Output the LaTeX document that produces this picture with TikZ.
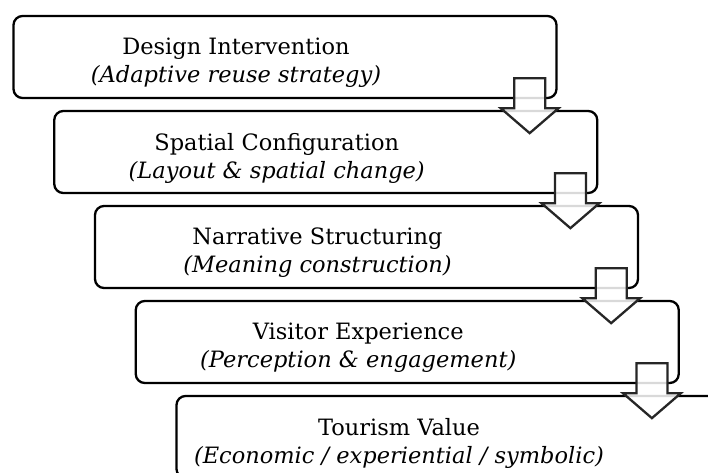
\documentclass[tikz,border=0pt]{standalone}
\usepackage{fontspec}
\setmainfont{DejaVu Serif}
\usetikzlibrary{calc}
\tikzset{
	stage/.style={draw=black,line width=2.3pt,rounded corners=9pt,fill=white,
		minimum width=543pt,minimum height=82pt,inner sep=0pt},
	stagetext/.style={align=center,inner sep=0pt,font=\fontsize{22.5}{28}\selectfont},
	downarrow/.style={draw=black!85,line width=2.3pt,fill=white,fill opacity=0.85,line join=miter}
}
% block arrow hanging from the lower right corner of a stage
\newcommand{\blockarrow}[1]{%
	\draw[downarrow] ($(#1.south east)+(-43.5,21)$) -- ++(31,0) -- ++(0,-30) -- ++(13.5,0)
	-- ++(-29,-25) -- ++(-29,25) -- ++(13.5,0) -- cycle;}
\begin{document}
\begin{tikzpicture}[x=1pt,y=1pt]
	\useasboundingbox (0,0) rectangle (708,-472);
	\clip (0,0) rectangle (708,-472);
	\foreach \i/\ttl/\sub in {1/Design Intervention/Adaptive reuse strategy,
		2/Spatial Configuration/Layout \& spatial change,
		3/Narrative Structuring/Meaning construction,
		4/Visitor Experience/Perception \& engagement,
		5/Tourism Value/{Economic / experiential / symbolic}}
	{
		\node[stage] (s\i) at ({285+40.75*(\i-1)},{-57-95*(\i-1)}) {};
		\node[stagetext] (t\i) at ($(s\i.center)+(-49,-6)$) {\ttl\\\textit{(\sub)}};
	}
	\foreach \i in {1,...,4}
	\blockarrow{s\i};
\end{tikzpicture}
\end{document}
